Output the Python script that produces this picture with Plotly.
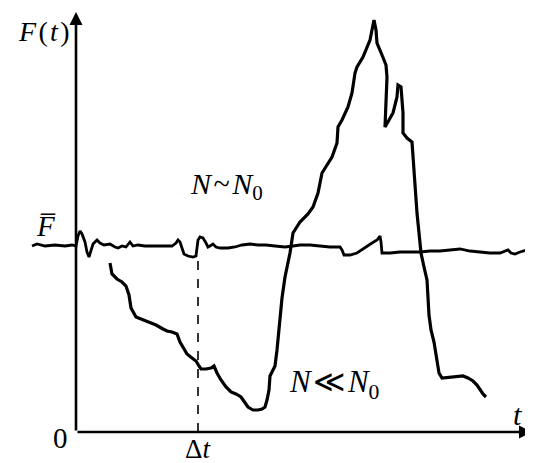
import plotly.graph_objects as go

# Pixel-derived readings -> values: t = px - 76, F = 432 - py (arbitrary units)
PX0, PY0 = 76, 432
OFF = 8  # page body margin offset of the rendered figure

# Curve N ~ N0 (fluctuates around the mean)
near_px = [32,37,45,55,65,72,76,78,80,82,85,87,89,91,93,97,100,104,110,115,118,122,126,130,133,138,145,155,165,172,176,178,180,182,184,188,193,196,197,198,200,203,206,208,210,213,216,220,228,235,242,250,258,266,275,285,293,300,310,320,330,340,342,344,350,357,364,372,377,380,381,382,390,400,410,420,430,440,450,460,470,480,490,500,505,508,511,515,520,527]
near_py = [246,244,246,245,246,245,246,236,231,234,242,252,257,250,244,240,243,245,244,247,248,246,247,242,246,245,246,246,246,246,243,240,242,248,254,256,257,256,246,240,237,238,243,247,246,244,247,248,248,247,245,244,245,245,246,247,246,245,245,246,247,247,250,255,255,253,248,243,240,236,242,253,253,252,252,252,251,251,250,249,251,252,253,253,251,250,253,254,252,250]

# Curve N << N0 (large fluctuations)
far_px = [110,111,112,117,122,126,129,131,136,146,156,163,167,172,177,180,184,187,192,196,199,201,206,211,214,217,221,226,231,236,241,245,248,253,258,262,265,267,269,270,273,275,277,279,282,285,290,293,300,308,313,318,322,332,337,338,342,348,352,355,357,363,367,370,372,374,376,377,382,386,387,386,385,389,393,397,398,401,403,403,407,412,413,415,417,419,421,424,427,429,431,434,437,439,442,450,458,463,468,473,477,480,483,486]
far_py = [263,270,274,279,282,286,295,308,317,321,325,329,331,332,334,342,349,354,358,361,366,369,369,368,366,373,380,387,392,394,397,402,407,410,410,409,407,400,390,376,370,366,350,329,298,277,253,233,222,214,207,193,173,157,143,127,120,107,93,73,67,57,47,40,30,20,30,43,55,65,77,100,127,120,113,97,85,87,113,133,138,142,157,187,213,233,253,267,280,315,330,342,360,373,378,377,376,376,378,381,385,390,394,397]

t_near = [p - PX0 for p in near_px]
F_near = [PY0 - p for p in near_py]
t_far = [p - PX0 for p in far_px]
F_far = [PY0 - p for p in far_py]

dt_value = 198 - PX0          # position of Δt
dt_top = PY0 - 258            # top of dashed marker

fig = go.Figure()
fig.add_trace(go.Scatter(x=t_near, y=F_near, mode="lines",
                         line=dict(color="black", width=2.8), hoverinfo="skip"))
fig.add_trace(go.Scatter(x=t_far, y=F_far, mode="lines",
                         line=dict(color="black", width=3.2), hoverinfo="skip"))
fig.add_trace(go.Scatter(x=[dt_value, dt_value], y=[0, dt_top], mode="lines",
                         line=dict(color="black", width=1.6, dash="dash"), hoverinfo="skip"))

# axes with arrows
fig.add_annotation(x=0, y=PY0 - 12, ax=0, ay=0, xref="x", yref="y", axref="x", ayref="y",
                   text="", showarrow=True, arrowhead=2, arrowsize=1, arrowwidth=2.6, arrowcolor="black")
fig.add_annotation(x=532 - PX0, y=0, ax=0, ay=0, xref="x", yref="y", axref="x", ayref="y",
                   text="", showarrow=True, arrowhead=2, arrowsize=1, arrowwidth=2.6, arrowcolor="black")

serif = "Liberation Serif"
def label(x, y, text, size=28):
    fig.add_annotation(x=x, y=y, xref="x", yref="y", text=text, showarrow=False,
                       font=dict(family=serif, size=size, color="black"))

label(44 - PX0, PY0 - 31, "<i>F</i>\u200a(\u200a<i>t</i>\u200a)", size=28)
label(45 - PX0, PY0 - 226, "<i>F\u0305</i>", size=29)
label(226 - PX0, PY0 - 186, "<i>N</i>\u200a~\u200a<i>N</i><sub>0</sub>", size=30)
label(334 - PX0, PY0 - 384,
      "<i>N</i><span style='font-family:Liberation Serif'>\u200a≪\u200a</span><i>N</i><sub>0</sub>", size=31)
label(60 - PX0, PY0 - 438, "0", size=29)
label(198 - PX0, PY0 - 449, "Δ<i>t</i>", size=27)
label(517 - PX0, PY0 - 414, "<i>t</i>", size=30)

fig.update_layout(
    width=533 - OFF, height=463 - OFF,
    margin=dict(l=0, r=0, t=0, b=0),
    paper_bgcolor="white", plot_bgcolor="white",
    showlegend=False,
    xaxis=dict(range=[OFF - PX0, 533 - PX0], visible=False, fixedrange=True),
    yaxis=dict(range=[PY0 - 463, PY0 - OFF], visible=False, fixedrange=True),
)
fig.write_html("out.html")
